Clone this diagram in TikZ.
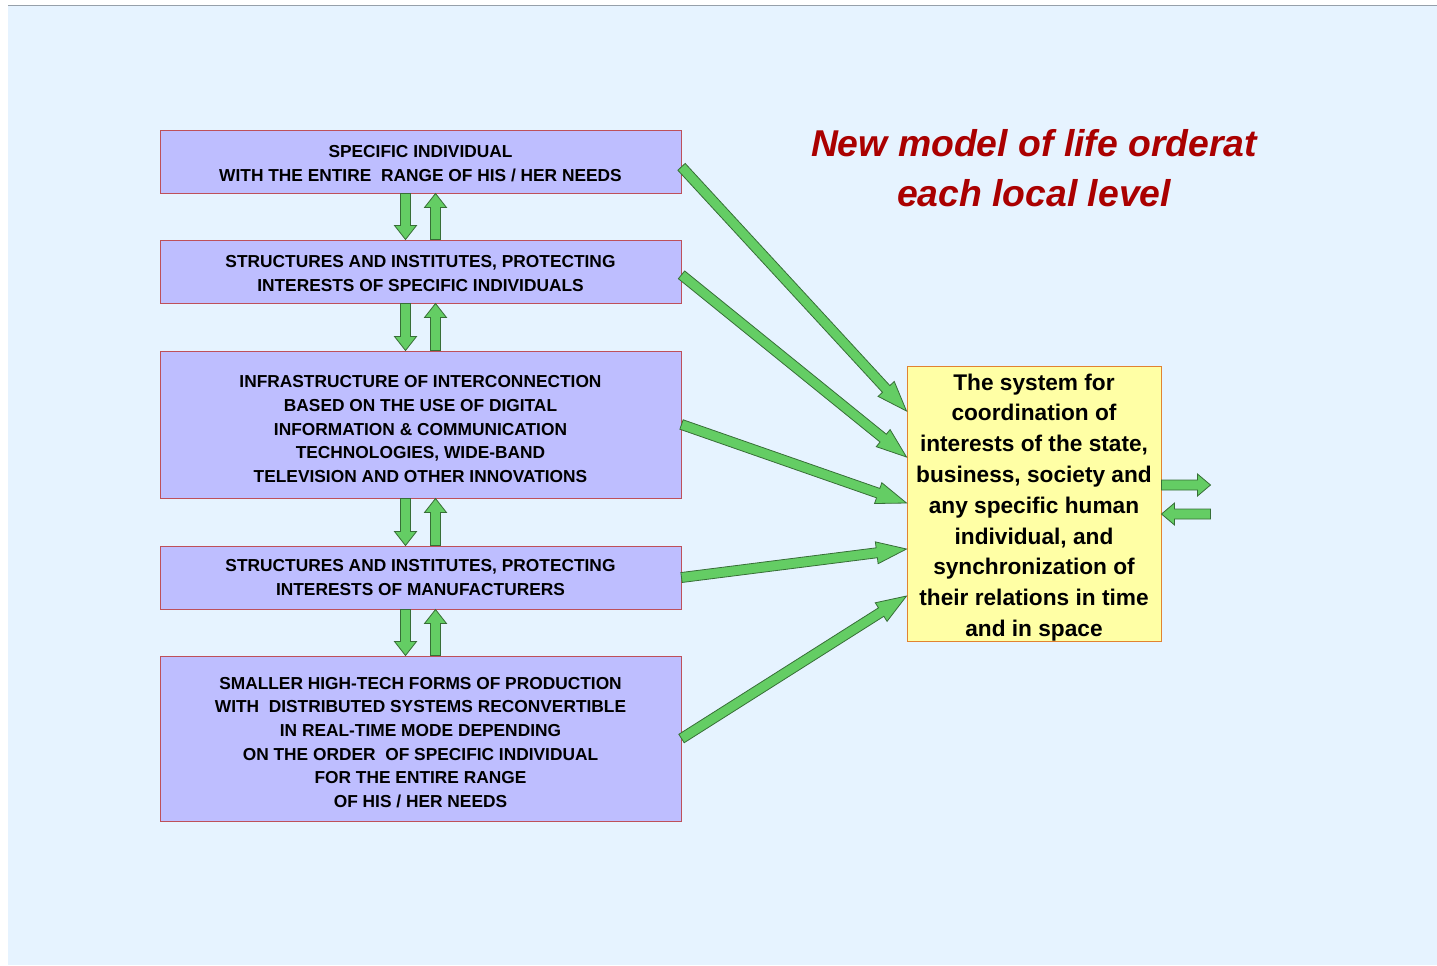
\documentclass[tikz,border=0pt]{standalone}
\usepackage{fontspec}
\setmainfont{Liberation Sans}
\usetikzlibrary{calc}

\definecolor{bgblue}{RGB}{230,243,255}
\definecolor{boxfill}{RGB}{190,190,255}
\definecolor{boxline}{RGB}{190,80,90}
\definecolor{sysfill}{RGB}{255,255,165}
\definecolor{sysline}{RGB}{225,130,50}
\definecolor{arrfill}{RGB}{100,205,100}
\definecolor{arrline}{RGB}{55,110,55}
\definecolor{titlered}{RGB}{170,0,0}

\tikzset{every picture/.style={line width=0.75pt}}
\tikzset{
  levelbox/.style={draw=boxline, fill=boxfill, minimum width=390.75pt, inner sep=0pt, align=center,
    font=\bfseries\fontsize{13}{17.8}\selectfont},
  sysbox/.style={draw=sysline, fill=sysfill, minimum width=190.5pt, minimum height=205.5pt, inner sep=0pt, align=center,
    font=\bfseries\fontsize{17}{23.1}\selectfont},
  fatline/.style={draw=arrline, fill=arrfill, line width=0.6pt, line join=miter}
}

% wide arrow: #1 head length, #2 start, #3 tip
\newcommand{\fatarrow}[3][10.5pt]{%
  \coordinate (fa) at ($(#3)!#1!(#2)$);
  \draw[fatline] ($(#2)!3.75pt!90:(#3)$) -- ($(fa)!3.75pt!90:(#3)$) -- ($(fa)!8.25pt!90:(#3)$) -- (#3)
    -- ($(fa)!8.25pt!-90:(#3)$) -- ($(fa)!3.75pt!-90:(#3)$) -- ($(#2)!3.75pt!-90:(#3)$) -- cycle;
}
% strut to push text a little lower in a box
\newcommand{\lowtext}[1]{\rule{0pt}{#1}}

\begin{document}
\begin{tikzpicture}[x=0.75pt,y=0.75pt,yscale=-1,xscale=1]
\useasboundingbox (0,0) rectangle (1437,965);

%Shape: Background
\fill[bgblue] (8,5) rectangle (1437,965);
\draw[color={rgb, 255:red, 150; green, 160; blue, 170}] (8,5) -- (1437,5);

%Shape: Level boxes
\node[levelbox, minimum height=47.25pt] (b1) at (420.5,161.5) {\lowtext{12.5pt}SPECIFIC INDIVIDUAL\\WITH THE ENTIRE\ \ RANGE OF HIS / HER NEEDS};
\node[levelbox, minimum height=47.25pt] (b2) at (420.5,271.5) {\lowtext{12.5pt}STRUCTURES AND INSTITUTES, PROTECTING\\INTERESTS OF SPECIFIC INDIVIDUALS};
\node[levelbox, minimum height=110.25pt] (b3) at (420.5,424.5) {\lowtext{16pt}INFRASTRUCTURE OF INTERCONNECTION\\BASED ON THE USE OF DIGITAL\\INFORMATION \& COMMUNICATION\\TECHNOLOGIES, WIDE-BAND\\TELEVISION AND OTHER INNOVATIONS};
\node[levelbox, minimum height=47.25pt] (b4) at (420.5,577.5) {STRUCTURES AND INSTITUTES, PROTECTING\\INTERESTS OF MANUFACTURERS};
\node[levelbox, minimum height=123.75pt] (b5) at (420.5,738.5) {\lowtext{15pt}SMALLER HIGH-TECH FORMS OF PRODUCTION\\WITH\ \ DISTRIBUTED SYSTEMS RECONVERTIBLE\\IN REAL-TIME MODE DEPENDING\\ON THE ORDER\ \ OF SPECIFIC INDIVIDUAL\\FOR THE ENTIRE RANGE\\OF HIS / HER NEEDS};

%Shape: Coordination system
\node[sysbox] (sys) at (1034,504) {\lowtext{17.5pt}The system for\\coordination of\\interests of the state,\\business, society and\\any specific human\\individual, and\\synchronization of\\their relations in time\\and in space};

% Text Node
\node[text=titlered, align=center, font=\bfseries\itshape\fontsize{28}{37.5}\selectfont] (title) at (1034,168) {New model of life orderat\\each local level};

%Straight Lines: up and down between levels
\foreach \a/\b in {b1/b2,b2/b3,b3/b4,b4/b5}{
  \coordinate (dn1) at ([xshift=-11.25pt]\a.south);
  \coordinate (dn2) at ([xshift=-11.25pt]\b.north);
  \fatarrow{dn1}{dn2}
  \coordinate (up1) at ([xshift=11.25pt]\b.north);
  \coordinate (up2) at ([xshift=11.25pt]\a.south);
  \fatarrow{up1}{up2}
}

%Straight Lines: levels to the system
\coordinate (out1) at ([yshift=4pt]b1.east);
\coordinate (out2) at ([yshift=2.5pt]b2.east);
\coordinate (in1) at ([yshift=-69.75pt]sys.west);
\coordinate (in2) at ([yshift=-35.25pt]sys.west);
\coordinate (in3) at ([yshift=-0.75pt]sys.west);
\coordinate (in4) at ([yshift=33.75pt]sys.west);
\coordinate (in5) at ([yshift=69pt]sys.west);
\fatarrow[22.5pt]{out1}{in1}
\fatarrow[22.5pt]{out2}{in2}
\fatarrow[22.5pt]{b3.east}{in3}
\fatarrow[22.5pt]{b4.east}{in4}
\fatarrow[22.5pt]{b5.east}{in5}

%Straight Lines: system outputs
\coordinate (sysout) at ([shift={(49,-19)}]sys.east);
\coordinate (sysin) at ([shift={(49,10)}]sys.east);
\coordinate (sysa) at ([yshift=-14.25pt]sys.east);
\coordinate (sysb) at ([yshift=7.5pt]sys.east);
\fatarrow[9.75pt]{sysa}{sysout}
\fatarrow[9.75pt]{sysin}{sysb}

\end{tikzpicture}
\end{document}
